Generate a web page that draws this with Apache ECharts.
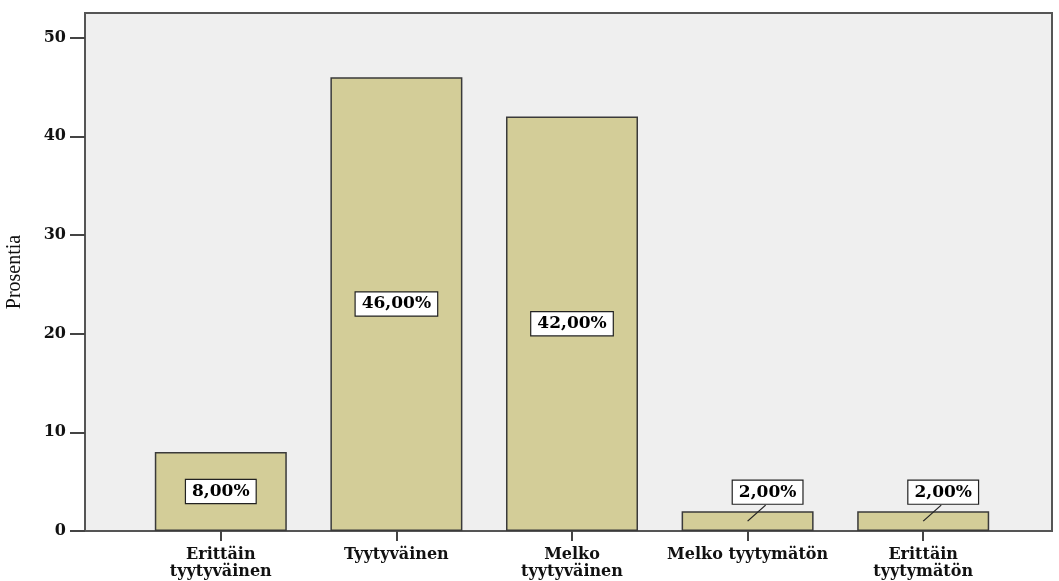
<!DOCTYPE html>
<html>
<head>
<meta charset="utf-8">
<script src="https://cdn.jsdelivr.net/npm/echarts@6/dist/echarts.min.js"></script>
<style>
  html, body { margin: 0; padding: 0; background: #fff; }
  #main { width: 1059px; height: 581px; }
</style>
</head>
<body>
<div id="main"></div>
<script>
// luokat ja arvot
var categories = ['Erittäin\ntyytyväinen', 'Tyytyväinen', 'Melko\ntyytyväinen', 'Melko tyytymätön', 'Erittäin\ntyytymätön'];
var percents = [8, 46, 42, 2, 2];
var yTicks = [0, 10, 20, 30, 40, 50];

var chart = echarts.init(document.getElementById('main'));
var serif = '"Liberation Serif", "DejaVu Serif", serif';
var boldSerif = '"DejaVu Serif", serif';

function isSmall(v) { return v < 5; }

var option = {
  animation: false,
  grid: [
    // laatikko + y-akseli
    { left: 85, right: 7, top: 13, bottom: 50, outerBoundsMode: 'none', show: true, backgroundColor: '#efefef', borderColor: '#555', borderWidth: 2 },
    // pylväät
    { left: 133, right: 48, top: 13, bottom: 50, outerBoundsMode: 'none' }
  ],
  xAxis: [
    { gridIndex: 0, type: 'value', show: false },
    {
      gridIndex: 1, type: 'category', data: categories,
      axisLine: { show: false },
      axisTick: { show: true, alignWithLabel: true, length: 10, lineStyle: { color: '#444', width: 2 } },
      axisLabel: { color: '#111', fontFamily: boldSerif, fontWeight: 'bold', fontSize: 16, lineHeight: 17, margin: 15, interval: 0 }
    }
  ],
  yAxis: [
    {
      gridIndex: 0, type: 'value', min: 0, max: 52.5, interval: 10,
      name: 'Prosentia', nameLocation: 'middle', nameGap: 60, nameRotate: 90,
      nameTextStyle: { color: '#111', fontFamily: serif, fontSize: 20 },
      axisLine: { show: false },
      splitLine: { show: false },
      axisTick: { show: true, length: 15, customValues: yTicks, lineStyle: { color: '#444', width: 2 } },
      axisLabel: { customValues: yTicks, color: '#111', fontFamily: boldSerif, fontWeight: 'bold', fontSize: 16, margin: 19 }
    },
    { gridIndex: 1, type: 'value', min: 0, max: 52.5, show: false }
  ],
  series: [{
    type: 'bar',
    xAxisIndex: 1,
    yAxisIndex: 1,
    barWidth: 132,
    data: percents,
    itemStyle: { color: '#d3cd98', borderColor: '#3a3a3a', borderWidth: 1.5 },
    label: {
      show: true,
      position: 'inside',
      formatter: function (p) { return p.value.toFixed(2).replace('.', ',') + '%'; },
      color: '#000',
      fontFamily: boldSerif,
      fontWeight: 'bold',
      fontSize: 17,
      backgroundColor: '#fff',
      borderColor: '#222',
      borderWidth: 1.2,
      padding: [4, 6, 2, 6]
    },
    labelLayout: function (p) {
      if (isSmall(percents[p.dataIndex])) {
        return { dx: 20, dy: -29 };
      }
      return {};
    }
  }, {
    // ohjausviiva pienille pylväille
    type: 'custom',
    xAxisIndex: 1,
    yAxisIndex: 1,
    data: percents.map(function (v, i) { return [i, v]; }),
    z: 5,
    silent: true,
    renderItem: function (params, api) {
      var v = api.value(1);
      if (!isSmall(v)) return null;
      var p = api.coord([api.value(0), v / 2]);
      return {
        type: 'line',
        shape: { x1: p[0], y1: p[1], x2: p[0] + 18, y2: p[1] - 16 },
        style: { stroke: '#222', lineWidth: 1.3 }
      };
    }
  }]
};

chart.setOption(option);
</script>
</body>
</html>
